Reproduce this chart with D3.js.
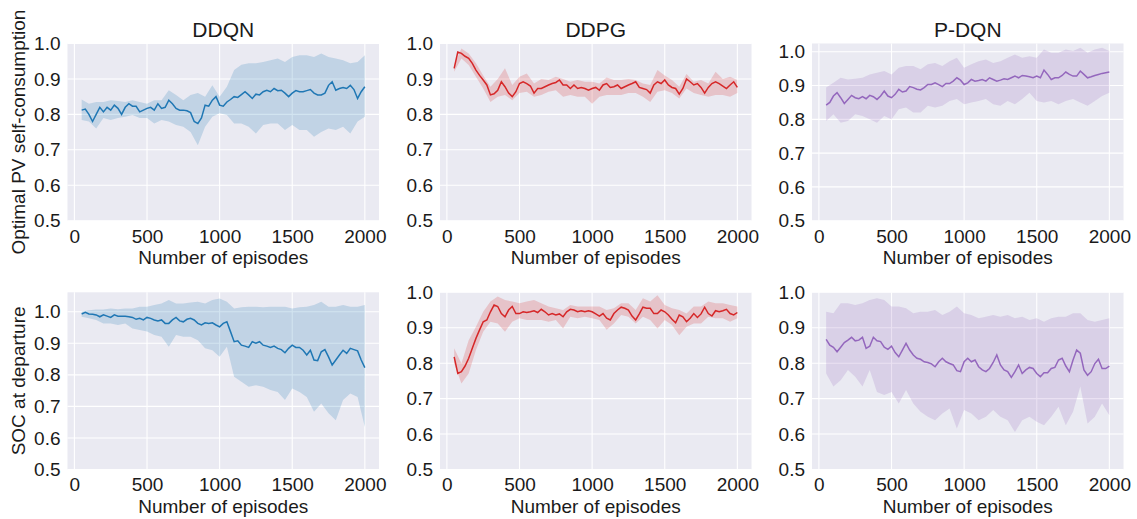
<!DOCTYPE html>
<html><head><meta charset="utf-8">
<title>Training curves</title>
<script src="https://d3js.org/d3.v7.min.js"></script>
<style>
  body { margin: 0; background: #ffffff; font-family: "Liberation Sans", Arial, Helvetica, sans-serif; }
  .grid line { stroke: #ffffff; stroke-width: 1.1; }
  .tick text { fill: #1a1a1a; }
</style>
</head>
<body>
<div id="chart"></div>
<script>
// episode grids (x values) : line sampled every 25 episodes, band every 50
var episodesLine = d3.range(50, 2001, 25);
var episodesBand = d3.range(50, 2001, 50);

var algorithms = ["DDQN", "DDPG", "P-DQN"];
var metrics = ["Optimal PV self-consumption", "SOC at departure"];
var xTicks = [0, 500, 1000, 1500, 2000];
var yTicks = [0.5, 0.6, 0.7, 0.8, 0.9, 1.0];

// ---- row 1 : optimal PV self-consumption ----
var ddqnPvMean = [
  .812,.815,.80,.78,.80,.82,.807,.82,.812,.826,
  .817,.80,.82,.83,.823,.823,.807,.812,.817,.82,
  .812,.83,.817,.82,.84,.83,.817,.812,.812,.81,
  .805,.78,.774,.79,.826,.823,.84,.85,.826,.823,
  .835,.842,.85,.848,.856,.864,.855,.845,.857,.855,
  .864,.868,.864,.873,.867,.868,.86,.85,.86,.867,
  .864,.864,.867,.87,.86,.855,.855,.86,.882,.892,
  .868,.873,.876,.873,.882,.87,.845,.864,.878];
var ddqnPvUpper = [
  .842,.83,.835,.835,.84,.838,.835,.84,.835,.83,
  .84,.84,.868,.855,.84,.855,.86,.85,.882,.85,
  .878,.925,.94,.944,.944,.948,.953,.958,.948,.962,
  .967,.967,.962,.972,.962,.958,.953,.944,.948,.967];
var ddqnPvLower = [
  .784,.78,.76,.79,.784,.79,.793,.798,.79,.79,
  .774,.784,.78,.77,.765,.75,.713,.765,.793,.803,
  .798,.774,.774,.765,.746,.77,.774,.774,.756,.77,
  .756,.756,.737,.75,.76,.756,.765,.746,.78,.793];

var ddpgPvMean = [
  .93,.976,.972,.964,.958,.944,.925,.91,.897,.883,
  .855,.858,.868,.892,.878,.86,.85,.864,.887,.892,
  .887,.88,.86,.873,.873,.878,.883,.887,.89,.897,
  .883,.883,.873,.883,.873,.876,.873,.868,.873,.876,
  .868,.883,.887,.876,.878,.883,.873,.878,.883,.887,
  .892,.876,.873,.87,.86,.883,.892,.887,.897,.883,
  .876,.873,.857,.873,.90,.892,.883,.887,.876,.86,
  .876,.887,.892,.887,.88,.873,.883,.892,.876];
var ddpgPvUpper = [
  .939,.986,.972,.944,.91,.878,.90,.93,.883,.906,
  .915,.887,.90,.897,.906,.90,.892,.897,.892,.892,
  .887,.904,.897,.897,.90,.897,.887,.883,.925,.91,
  .897,.878,.914,.892,.897,.887,.92,.90,.906,.897];
var ddpgPvLower = [
  .92,.958,.939,.906,.873,.835,.85,.855,.84,.86,
  .864,.85,.855,.864,.868,.85,.855,.85,.85,.83,
  .85,.855,.855,.855,.86,.86,.85,.835,.864,.868,
  .86,.845,.873,.86,.855,.85,.855,.855,.85,.86];

var pdqnPvMean = [
  .842,.85,.869,.879,.864,.847,.859,.871,.864,.861,
  .867,.861,.871,.867,.859,.869,.884,.869,.864,.874,
  .889,.881,.884,.897,.894,.889,.887,.894,.903,.903,
  .908,.903,.897,.906,.906,.913,.923,.916,.903,.908,
  .918,.913,.915,.918,.913,.923,.918,.913,.916,.92,
  .918,.923,.928,.923,.93,.928,.926,.923,.928,.923,
  .946,.933,.918,.923,.923,.93,.94,.933,.928,.928,
  .943,.933,.923,.926,.93,.933,.936,.938,.94];
var pdqnPvUpper = [
  .894,.908,.923,.918,.92,.923,.933,.938,.943,.933,
  .953,.958,.958,.948,.963,.967,.958,.972,.982,.953,
  .963,.972,.977,.967,.972,.982,.992,.982,.987,.982,
  1.007,.997,.997,1.007,1.002,1.012,.997,1.007,1.012,1.002];
var pdqnPvLower = [
  .795,.815,.79,.795,.815,.81,.80,.79,.81,.80,
  .83,.835,.82,.82,.84,.835,.84,.854,.86,.845,
  .85,.854,.86,.845,.84,.854,.845,.86,.879,.854,
  .85,.854,.845,.854,.86,.85,.84,.854,.869,.879];

// ---- row 2 : SOC at departure ----
var ddqnSocMean = [
  .993,.998,.993,.992,.99,.984,.99,.986,.982,.99,
  .986,.986,.986,.984,.982,.976,.979,.974,.982,.979,
  .974,.971,.974,.963,.963,.974,.982,.971,.968,.976,
  .979,.974,.963,.958,.965,.963,.965,.958,.952,.963,
  .968,.937,.905,.908,.894,.891,.887,.905,.90,.905,
  .894,.891,.887,.891,.884,.88,.87,.884,.894,.887,
  .887,.878,.863,.878,.847,.845,.873,.88,.857,.831,
  .847,.863,.878,.868,.884,.88,.876,.847,.823];
var ddqnSocUpper = [
  1.0,1.005,1.007,1.007,1.01,1.008,1.01,1.01,1.016,1.016,
  1.021,1.026,1.037,1.026,1.026,1.029,1.032,1.026,1.037,1.042,
  1.032,1.01,1.014,1.016,1.016,1.014,1.016,1.016,1.016,1.01,
  1.014,1.016,1.021,1.032,1.016,1.016,1.021,1.016,1.016,1.021];
var ddqnSocLower = [
  .984,.979,.974,.963,.963,.958,.963,.947,.942,.937,
  .926,.921,.889,.926,.921,.921,.91,.884,.878,.857,
  .889,.794,.778,.762,.767,.762,.752,.746,.72,.757,
  .746,.73,.683,.709,.678,.656,.72,.741,.73,.635];

var ddpgSocMean = [
  .818,.771,.776,.792,.814,.842,.87,.894,.917,.922,
  .945,.964,.96,.94,.931,.95,.96,.94,.94,.945,
  .943,.945,.948,.943,.952,.945,.936,.94,.936,.939,
  .931,.945,.952,.95,.945,.948,.945,.948,.945,.939,
  .933,.94,.927,.922,.94,.95,.958,.955,.95,.933,
  .922,.939,.958,.955,.955,.94,.94,.95,.945,.936,
  .924,.914,.936,.931,.917,.927,.94,.929,.939,.958,
  .94,.933,.948,.945,.948,.952,.94,.936,.943];
var ddpgSocUpper = [
  .842,.799,.865,.903,.945,.974,.988,.978,.974,.969,
  .974,.978,.969,.96,.955,.95,.964,.96,.96,.96,
  .96,.95,.955,.969,.969,.95,.983,.974,.992,.964,
  .955,.95,.94,.96,.96,.974,.969,.969,.964,.96];
var ddpgSocLower = [
  .799,.743,.771,.837,.889,.917,.912,.889,.917,.927,
  .922,.922,.922,.917,.922,.898,.931,.927,.931,.927,
  .922,.894,.912,.936,.931,.912,.931,.922,.898,.922,
  .908,.879,.903,.912,.912,.931,.927,.927,.917,.927];

var pdqnSocMean = [
  .867,.851,.845,.832,.845,.858,.865,.873,.863,.865,
  .873,.842,.848,.873,.863,.861,.845,.839,.848,.83,
  .818,.837,.856,.837,.823,.814,.811,.804,.802,.798,
  .79,.804,.814,.804,.799,.795,.779,.776,.804,.814,
  .804,.809,.79,.781,.776,.785,.802,.823,.795,.781,
  .776,.76,.776,.795,.771,.781,.788,.785,.771,.762,
  .773,.773,.785,.788,.809,.814,.792,.776,.809,.837,
  .828,.781,.766,.776,.799,.811,.785,.785,.792];
var pdqnSocUpper = [
  .945,.941,.969,.969,.964,.969,.978,.983,.978,.96,
  .96,.955,.941,.945,.945,.95,.936,.945,.96,.941,
  .936,.927,.931,.936,.931,.936,.927,.931,.922,.927,
  .917,.927,.931,.931,.941,.941,.922,.917,.922,.927];
var pdqnSocLower = [
  .771,.734,.752,.781,.762,.734,.781,.719,.71,.719,
  .686,.724,.686,.663,.649,.639,.658,.672,.616,.668,
  .658,.639,.649,.668,.649,.639,.606,.639,.649,.635,
  .625,.649,.677,.625,.663,.734,.63,.649,.686,.653];

var colors = {"DDQN": "#1f77b4", "DDPG": "#d62728", "P-DQN": "#9467bd"};

var panels = [
  {row: 0, col: 0, algo: "DDQN",  mean: ddqnPvMean,  upper: ddqnPvUpper,  lower: ddqnPvLower,  yMax: 1.0},
  {row: 0, col: 1, algo: "DDPG",  mean: ddpgPvMean,  upper: ddpgPvUpper,  lower: ddpgPvLower,  yMax: 1.0},
  {row: 0, col: 2, algo: "P-DQN", mean: pdqnPvMean,  upper: pdqnPvUpper,  lower: pdqnPvLower,  yMax: 1.0245},
  {row: 1, col: 0, algo: "DDQN",  mean: ddqnSocMean, upper: ddqnSocUpper, lower: ddqnSocLower, yMax: 1.0616},
  {row: 1, col: 1, algo: "DDPG",  mean: ddpgSocMean, upper: ddpgSocUpper, lower: ddpgSocLower, yMax: 1.0},
  {row: 1, col: 2, algo: "P-DQN", mean: pdqnSocMean, upper: pdqnSocUpper, lower: pdqnSocLower, yMax: 1.0}
];

var W = 1137, H = 519;
var colLeft = [67.5, 440, 812];
var rowTop = [43.5, 292.3];
var pw = 311.5, ph = 177.2;

var svg = d3.select("#chart").append("svg")
  .attr("width", W)
  .attr("height", H)
  .style("font-family", '"Liberation Sans", Arial, Helvetica, sans-serif');

panels.forEach(function(p) {
  var g = svg.append("g")
    .attr("transform", "translate(" + colLeft[p.col] + "," + rowTop[p.row] + ")");

  var x = d3.scaleLinear().domain([-47.5, 2097.5]).range([0, pw]);
  var y = d3.scaleLinear().domain([0.5, p.yMax]).range([ph, 0]);

  // background
  g.append("rect")
    .attr("width", pw)
    .attr("height", ph)
    .attr("fill", "#eaeaf2");

  // grid
  var grid = g.append("g").attr("class", "grid");
  grid.selectAll(".gx").data(xTicks).enter().append("line")
    .attr("x1", d => x(d)).attr("x2", d => x(d))
    .attr("y1", 0).attr("y2", ph);
  grid.selectAll(".gy").data(yTicks).enter().append("line")
    .attr("x1", 0).attr("x2", pw)
    .attr("y1", d => y(d)).attr("y2", d => y(d));

  var c = colors[p.algo];

  // std band
  var band = episodesBand.map(function(e, i) { return {e: e, lo: p.lower[i], hi: p.upper[i]}; });
  g.append("path")
    .datum(band)
    .attr("fill", c)
    .attr("fill-opacity", 0.2)
    .attr("d", d3.area().x(d => x(d.e)).y0(d => y(d.lo)).y1(d => y(d.hi)));

  // mean line
  var pts = episodesLine.map(function(e, i) { return {e: e, v: p.mean[i]}; });
  g.append("path")
    .datum(pts)
    .attr("fill", "none")
    .attr("stroke", c)
    .attr("stroke-width", 1.5)
    .attr("d", d3.line().x(d => x(d.e)).y(d => y(d.v)));

  // axes (no tick marks, seaborn darkgrid look)
  var ax = g.append("g")
    .attr("transform", "translate(0," + ph + ")")
    .call(d3.axisBottom(x).tickValues(xTicks).tickSize(0).tickPadding(8.5).tickFormat(d3.format("d")));
  var ay = g.append("g")
    .call(d3.axisLeft(y).tickValues(yTicks).tickSize(0).tickPadding(7).tickFormat(d3.format(".1f")));
  [ax, ay].forEach(function(a) {
    a.select(".domain").remove();
    a.selectAll("text").attr("font-size", 19).attr("font-family", null);
  });

  g.append("text")
    .attr("x", pw / 2)
    .attr("y", ph + 43.5)
    .attr("text-anchor", "middle")
    .attr("font-size", 19)
    .attr("fill", "#1a1a1a")
    .text("Number of episodes");

  if (p.row === 0) {
    g.append("text")
      .attr("x", pw / 2)
      .attr("y", -7)
      .attr("text-anchor", "middle")
      .attr("font-size", 21)
      .attr("fill", "#1a1a1a")
      .text(algorithms[p.col]);
  }
  if (p.col === 0) {
    g.append("text")
      .attr("transform", "translate(" + (25 - colLeft[0]) + "," + (ph / 2) + ") rotate(-90)")
      .attr("text-anchor", "middle")
      .attr("font-size", 19)
      .attr("fill", "#1a1a1a")
      .text(metrics[p.row]);
  }
});
</script>
</body></html>
